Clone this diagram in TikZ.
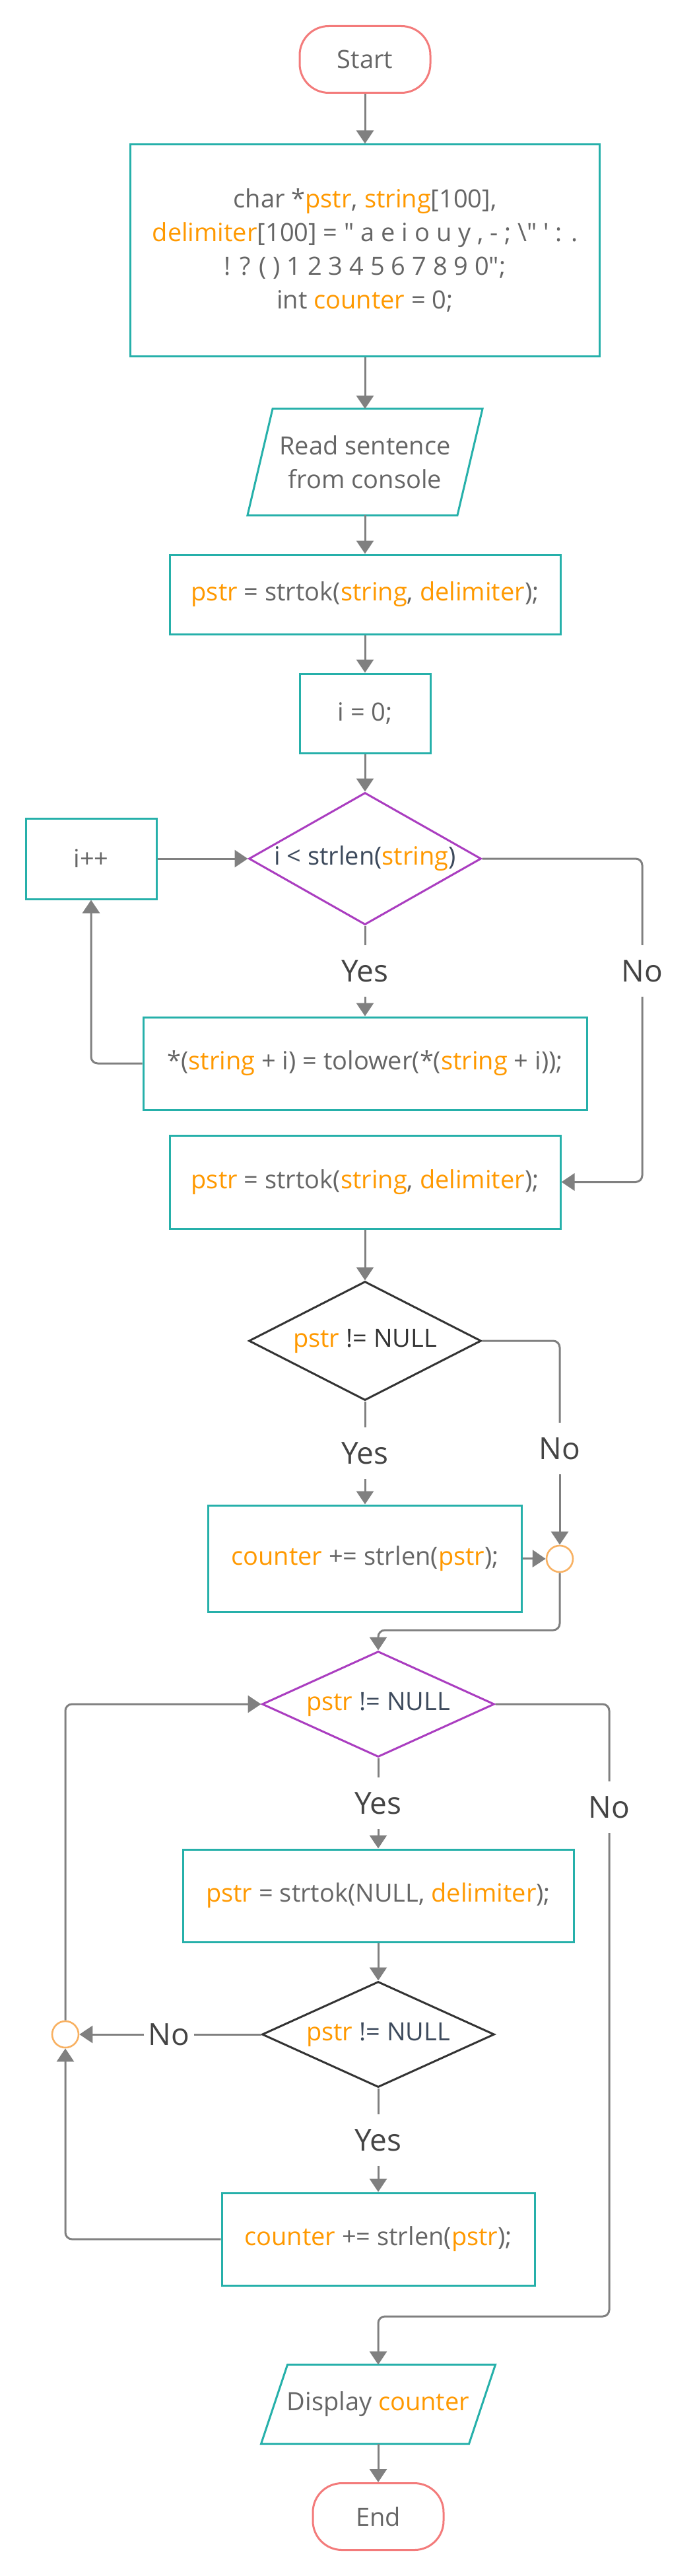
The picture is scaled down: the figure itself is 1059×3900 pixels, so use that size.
\documentclass[tikz,border=0pt]{standalone}
\usepackage{fontspec}
\setmainfont{Open Sans}
\newfontfamily\codefont{Open Sans}
\usetikzlibrary{shapes.geometric,arrows.meta}
\definecolor{tealc}{HTML}{26B0AA}
\definecolor{termc}{HTML}{F37B7B}
\definecolor{purpc}{HTML}{AA3DC0}
\definecolor{darkc}{HTML}{333333}
\definecolor{linec}{HTML}{808080}
\definecolor{varc}{HTML}{FF9900}
\definecolor{txtc}{HTML}{666666}
\definecolor{lblc}{HTML}{444444}
\definecolor{slatec}{HTML}{3D4A5C}
\definecolor{circc}{HTML}{F8B162}
\newcommand{\vr}[1]{\textcolor{varc}{#1}}
\begin{document}
\begin{tikzpicture}[x=0.5pt,y=-0.5pt,
 base/.style={inner sep=0pt, font=\codefont\fontsize{19}{25.5}\selectfont, text=txtc, align=center},
 term/.style={base, draw=termc, line width=1.5pt, rounded corners=22pt, minimum width=99pt, minimum height=50.5pt},
 proc/.style={base, draw=tealc, line width=1.5pt},
 dec/.style={base, diamond, draw=purpc, line width=1.5pt, minimum width=176pt},
 decb/.style={dec, draw=darkc},
 pio/.style={base, rectangle, outer sep=0pt},
 pedge/.style={draw=tealc, line width=1.5pt, line join=miter},
 lbl/.style={inner xsep=3pt, inner ysep=11pt, font=\codefont\fontsize{23}{28}\selectfont, text=lblc},
 junc/.style={circle, draw=circc, line width=1.3pt, fill=white, minimum size=20pt, inner sep=0pt},
 conn/.style={draw=linec, line width=1.5pt, rounded corners=5pt},
 arr/.style={conn, -{Triangle[length=10pt,width=13pt]}},
]
\fill[white] (0,0) rectangle (1059,3900);
\useasboundingbox (0,0) rectangle (1059,3900);

% nodes, upper part
\node[term] (start) at (553,90) {Start};
\node[proc, minimum width=355.5pt, minimum height=160.5pt] (b1) at (553,379.5)
 {char *\vr{pstr}, \vr{string}[100],\\
  \vr{delimiter}[100] = " a e i o u y , - ; \textbackslash" ' : .\\
  ! ? ( ) 1 2 3 4 5 6 7 8 9 0";\\
  int \vr{counter} = 0;};
\node[pio, minimum width=178pt, minimum height=80.5pt] (p1) at (553,699.5) {Read sentence\\from console};
\draw[pedge] ([xshift=19pt]p1.north west) -- (p1.north east) -- ([xshift=-19pt]p1.south east) -- (p1.south west) -- cycle;
\node[proc, minimum width=296pt, minimum height=60pt] (b2) at (553,900) {\vr{pstr} = strtok(\vr{string}, \vr{delimiter});};
\node[proc, minimum width=99pt, minimum height=60pt] (b3) at (553,1080) {i = 0;};
\node[dec, minimum height=100pt] (d1) at (553,1300) {\makebox[0pt]{\textcolor{slatec}{i < strlen(}\vr{string}\textcolor{slatec}{)}}};
\node[proc, minimum width=99pt, minimum height=61pt] (inc) at (138,1300) {i++};
\node[proc, minimum width=336pt, minimum height=70pt] (b4) at (553,1610) {*(\vr{string} + i) = tolower(*(\vr{string} + i));};
\node[proc, minimum width=296pt, minimum height=70.5pt] (b5) at (553,1789.5) {\vr{pstr} = strtok(\vr{string}, \vr{delimiter});};
\node[decb, minimum height=90pt] (d2) at (553,2030) {\makebox[0pt]{\vr{pstr} \textcolor{darkc}{!= NULL}}};
\node[proc, minimum width=237.5pt, minimum height=80.5pt] (b6) at (553,2359.5) {\vr{counter} += strlen(\vr{pstr});};
\node[junc] (c1) at (848,2360) {};

% nodes, lower part
\node[dec, minimum height=80pt] (d3) at (573,2580) {\makebox[0pt]{\vr{pstr} \textcolor{slatec}{!= NULL}}};
\node[proc, minimum width=296pt, minimum height=70pt] (b7) at (573,2870) {\vr{pstr} = strtok(NULL, \vr{delimiter});};
\node[decb, minimum height=80pt] (d4) at (573,3080) {\makebox[0pt]{\vr{pstr} \textcolor{slatec}{!= NULL}}};
\node[proc, minimum width=237pt, minimum height=70pt] (b8) at (573,3390) {\vr{counter} += strlen(\vr{pstr});};
\node[junc] (c2) at (99,3080) {};
\node[pio, minimum width=177.5pt, minimum height=60pt] (disp) at (573,3640) {Display \vr{counter}};
\draw[pedge] ([xshift=20pt]disp.north west) -- (disp.north east) -- ([xshift=-20pt]disp.south east) -- (disp.south west) -- cycle;
\node[term] (end) at (573,3810) {End};

% labels
\node[lbl] (yes1) at (553,1470) {Yes};
\node[lbl] (no1) at (973,1470) {No};
\node[lbl] (yes2) at (553,2200) {Yes};
\node[lbl] (no2) at (848,2193) {No};
\node[lbl] (yes3) at (573,2730) {Yes};
\node[lbl] (no3) at (923,2736) {No};
\node[lbl] (no4) at (256,3080) {No};
\node[lbl] (yes4) at (573,3240) {Yes};

\coordinate (j1) at (573,2468);
\coordinate (j2) at (573,3507);

% connectors
\draw[arr] (start.south) -- (b1.north);
\draw[arr] (b1.south) -- (p1.north);
\draw[arr] (p1.south) -- (b2.north);
\draw[arr] (b2.south) -- (b3.north);
\draw[arr] (b3.south) -- (d1.north);
\draw[arr] (inc.east) -- (d1.west);
\draw[conn] (d1.south) -- (yes1.north);
\draw[arr] (yes1.south) -- (b4.north);
\draw[conn] (d1.east) -| (no1.north);
\draw[arr] (no1.south) |- (b5.east);
\draw[arr] (b4.west) -| (inc.south);
\draw[arr] (b5.south) -- (d2.north);
\draw[conn] (d2.south) -- (yes2.north);
\draw[arr] (yes2.south) -- (b6.north);
\draw[conn] (d2.east) -| (no2.north);
\draw[arr] (no2.south) -- (c1.north);
\draw[arr] (b6.east) -- (c1.west);
\draw[arr] (c1.south) |- (j1) -- (d3.north);
\draw[arr] (c2.north) |- (d3.west);
\draw[conn] (d3.south) -- (yes3.north);
\draw[arr] (yes3.south) -- (b7.north);
\draw[conn] (d3.east) -| (no3.north);
\draw[arr] (no3.south) |- (j2) -- (disp.north);
\draw[arr] (b7.south) -- (d4.north);
\draw[conn] (d4.west) -- (no4.east);
\draw[arr] (no4.west) -- (c2.east);
\draw[conn] (d4.south) -- (yes4.north);
\draw[arr] (yes4.south) -- (b8.north);
\draw[arr] (b8.west) -| (c2.south);
\draw[arr] (disp.south) -- (end.north);
\end{tikzpicture}
\end{document}
